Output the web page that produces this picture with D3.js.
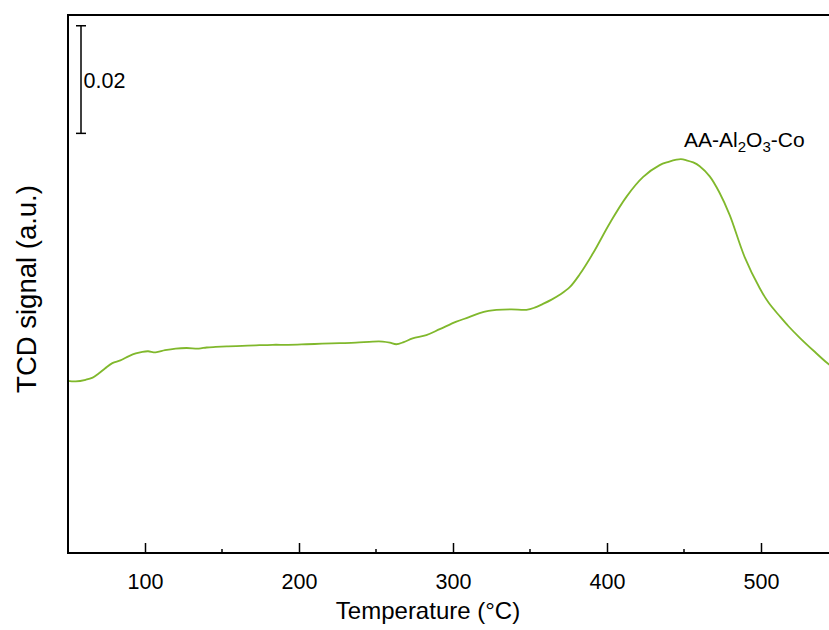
<!DOCTYPE html>
<html>
<head>
<meta charset="utf-8">
<script src="https://cdn.jsdelivr.net/npm/d3@7"></script>
<style>
  html, body { margin: 0; padding: 0; background: #fff; }
  svg { display: block; font-family: "Liberation Sans", Arial, sans-serif; }
</style>
</head>
<body>
<svg id="chart" width="829" height="630"></svg>
<script>
// H2-TPR profile of the AA-Al2O3-Co sample
const temperature = [50, 55, 61.5, 66, 70.1, 74, 78.8, 84, 89.6, 94, 98.3, 102, 106.9, 113, 119.9, 127,
  134.9, 140, 145.9, 154, 163.2, 172, 182.9, 193, 204.8, 215, 226.4, 237, 247.9, 254.4, 259, 263.2,
  268, 273.8, 282.7, 291.4, 302.2, 310, 317.3, 323, 328.2, 338, 347.7, 353, 358.4, 364, 369.3,
  375.8, 382.3, 390.9, 401.8, 412.6, 423.5, 434.2, 440, 445.1, 448, 451.6, 456, 460.2, 466.7,
  473, 479.7, 489.4, 499.2, 505, 512.2, 518, 525.2, 534.9, 544, 550];
const tcdSignal = [0.0320, 0.0319, 0.0322, 0.0326, 0.0334, 0.0343, 0.0353, 0.0358, 0.0366, 0.0371,
  0.0374, 0.0375, 0.0373, 0.0377, 0.0380, 0.0381, 0.0380, 0.0382, 0.0383, 0.0384, 0.0385, 0.0386,
  0.0387, 0.0387, 0.0388, 0.0389, 0.0390, 0.0391, 0.0393, 0.0393, 0.0391, 0.0388,
  0.0392, 0.0399, 0.0405, 0.0416, 0.0430, 0.0438, 0.0446, 0.0450, 0.0452, 0.0453, 0.0452, 0.0456,
  0.0463, 0.0471, 0.0480, 0.0494, 0.0518, 0.0557, 0.0613, 0.0662, 0.0699, 0.0721, 0.0727, 0.0731,
  0.0732, 0.0730, 0.0726, 0.0719, 0.0700, 0.0670, 0.0628, 0.0550, 0.0492, 0.0465, 0.0440, 0.0421,
  0.0400, 0.0374, 0.0351, 0.0341];
const majorTicks = [100, 200, 300, 400, 500];
const minorTicks = [150, 250, 350, 450];
const scaleBar = { from: 0.078, to: 0.098, label: "0.02" };
const seriesName = { base: "AA-Al", sub1: "2", mid: "O", sub2: "3", tail: "-Co" };

const svg = d3.select("#chart");
const margin = { left: 68, top: 15, right: -9, bottom: 77 };
const W = 829, H = 630;
const x = d3.scaleLinear().domain([50, 550]).range([margin.left, W - margin.right]);
const y = d3.scaleLinear().domain([0, 0.1]).range([H - margin.bottom, margin.top]);

const lineColor = "#80b82c";

// signal trace
const line = d3.line()
  .x((d, i) => x(temperature[i]))
  .y(d => y(d))
  .curve(d3.curveCatmullRom.alpha(0.5));
svg.append("path")
  .datum(tcdSignal)
  .attr("d", line)
  .attr("fill", "none")
  .attr("stroke", lineColor)
  .attr("stroke-width", 1.8)
  .attr("stroke-linejoin", "round");

// frame
svg.append("rect")
  .attr("x", x(50)).attr("y", y(0.1))
  .attr("width", x(550) - x(50)).attr("height", y(0) - y(0.1))
  .attr("fill", "none").attr("stroke", "#000").attr("stroke-width", 2);

// bottom axis with inward ticks
const xAxis = svg.append("g").attr("transform", `translate(0,${y(0)})`);
xAxis.call(d3.axisBottom(x).tickValues(majorTicks).tickSizeInner(-10).tickSizeOuter(0).tickPadding(21))
  .call(g => g.select(".domain").remove())
  .call(g => g.selectAll("line").attr("stroke", "#000").attr("stroke-width", 1.5))
  .call(g => g.selectAll("text").attr("font-size", 21.5).attr("fill", "#000")
    .attr("font-family", "Liberation Sans, Arial, sans-serif"));
xAxis.selectAll(".minor").data(minorTicks).enter().append("line")
  .attr("x1", d => x(d)).attr("x2", d => x(d))
  .attr("y1", 0).attr("y2", -4)
  .attr("stroke", "#000").attr("stroke-width", 1.5);

// axis titles
svg.append("text")
  .attr("x", 428).attr("y", 619)
  .attr("text-anchor", "middle").attr("font-size", 24)
  .text("Temperature (°C)");
svg.append("text")
  .attr("transform", "translate(36,289) rotate(-90)")
  .attr("text-anchor", "middle").attr("font-size", 27.5)
  .text("TCD signal (a.u.)");

// scale bar
const sb = svg.append("g");
const sbx = 81;
sb.append("line").attr("x1", sbx).attr("x2", sbx)
  .attr("y1", y(scaleBar.from)).attr("y2", y(scaleBar.to))
  .attr("stroke", "#000").attr("stroke-width", 1.5);
[scaleBar.from, scaleBar.to].forEach(v => {
  sb.append("line").attr("x1", sbx - 5).attr("x2", sbx + 5)
    .attr("y1", y(v)).attr("y2", y(v))
    .attr("stroke", "#000").attr("stroke-width", 1.5);
});
sb.append("text")
  .attr("x", sbx + 2.5).attr("y", (y(scaleBar.from) + y(scaleBar.to)) / 2 + 8)
  .attr("font-size", 21.5)
  .text(scaleBar.label);

// series label with subscripts
const lab = svg.append("text").attr("x", 684).attr("y", 147).attr("font-size", 21);
lab.append("tspan").text(seriesName.base);
lab.append("tspan").attr("font-size", 15).attr("dy", 5).text(seriesName.sub1);
lab.append("tspan").attr("dy", -5).text(seriesName.mid);
lab.append("tspan").attr("font-size", 15).attr("dy", 5).text(seriesName.sub2);
lab.append("tspan").attr("dy", -5).text(seriesName.tail);
</script>
</body>
</html>
